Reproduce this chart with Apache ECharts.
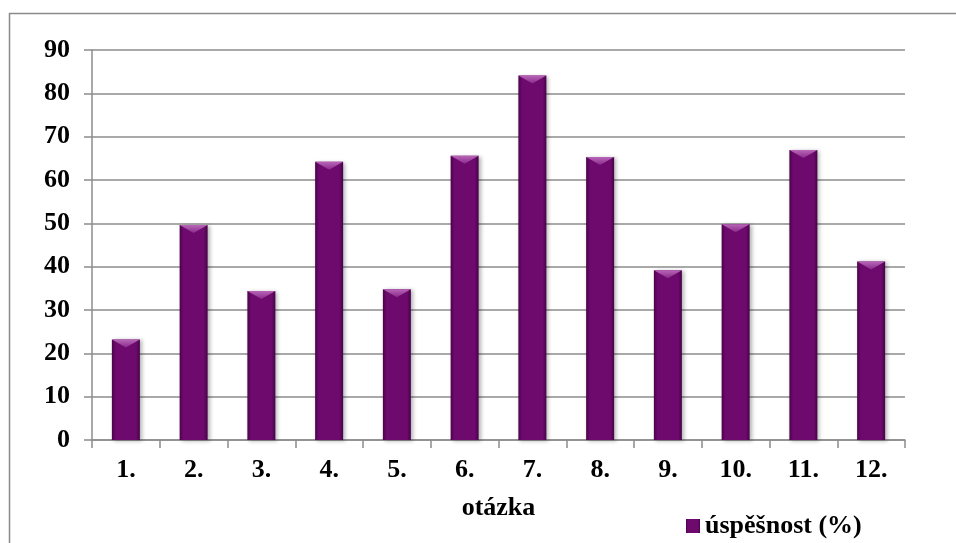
<!DOCTYPE html>
<html>
<head>
<meta charset="utf-8">
<script src="https://cdn.jsdelivr.net/npm/echarts@6/dist/echarts.min.js"></script>
<style>
  html, body { margin: 0; padding: 0; background: #fff; }
  #chart { width: 956px; height: 543px; }
</style>
</head>
<body>
<div id="chart"></div>
<script>
// Question labels and success rate per question
const categories = ['1.', '2.', '3.', '4.', '5.', '6.', '7.', '8.', '9.', '10.', '11.', '12.'];
const successRate = [23.2, 49.6, 34.4, 64.2, 34.8, 65.6, 84.1, 65.3, 39.2, 49.8, 66.9, 41.2];
const yTicks = [0, 10, 20, 30, 40, 50, 60, 70, 80, 90];
const seriesName = 'úspěšnost (%)';

const font = 'Liberation Serif, Times New Roman, serif';
const fontSize = 26;
const gridColor = '#8c8c8c';

const barFill = new echarts.graphic.LinearGradient(0, 0, 1, 0, [
  { offset: 0, color: '#4a034a' },
  { offset: 0.14, color: '#6e0a6e' },
  { offset: 0.86, color: '#6e0a6e' },
  { offset: 1, color: '#460346' }
]);
const capFill = new echarts.graphic.LinearGradient(0, 0, 0, 1, [
  { offset: 0, color: '#b866b8' },
  { offset: 1, color: '#8a2a8a' }
]);

const chart = echarts.init(document.getElementById('chart'));
chart.setOption({
  animation: false,
  backgroundColor: '#ffffff',
  graphic: [{
    type: 'rect',
    shape: { x: 9.5, y: 13.5, width: 960, height: 560 },
    style: { fill: 'none', stroke: '#8a8a8a', lineWidth: 1.5 },
    silent: true
  }],
  grid: { left: 92, right: 51, top: 50, bottom: 103 },
  legend: {
    data: [{ name: seriesName, icon: 'rect' }],
    left: 681,
    top: 508,
    itemWidth: 14,
    itemHeight: 14,
    itemGap: 5,
    textStyle: { fontFamily: font, fontWeight: 'bold', fontSize: fontSize, color: '#000' }
  },
  xAxis: {
    type: 'category',
    data: categories,
    name: 'otázka',
    nameLocation: 'middle',
    nameGap: 55,
    nameTextStyle: { fontFamily: font, fontWeight: 'bold', fontSize: fontSize, color: '#000' },
    axisLine: { lineStyle: { color: gridColor, width: 1.5 } },
    axisTick: { show: true, length: 8, inside: false, lineStyle: { color: gridColor, width: 1.5 } },
    axisLabel: { margin: 17, fontFamily: font, fontWeight: 'bold', fontSize: fontSize, color: '#000' }
  },
  yAxis: {
    type: 'value',
    min: yTicks[0],
    max: yTicks[yTicks.length - 1],
    interval: 10,
    axisLine: { show: true, lineStyle: { color: gridColor, width: 1.5 } },
    axisTick: { show: true, length: 8, lineStyle: { color: gridColor, width: 1.5 } },
    axisLabel: { margin: 22, fontFamily: font, fontWeight: 'bold', fontSize: fontSize, color: '#000' },
    splitLine: { show: true, lineStyle: { color: gridColor, width: 1.5 } }
  },
  series: [
    {
      name: seriesName,
      type: 'bar',
      data: successRate,
      barWidth: 28,
      itemStyle: {
        color: barFill,
        shadowColor: 'rgba(0,0,0,0.3)',
        shadowBlur: 4,
        shadowOffsetX: 2,
        shadowOffsetY: 1
      }
    },
    {
      name: 'bevel',
      type: 'pictorialBar',
      data: successRate,
      symbol: 'path://M0,0 L10,0 L5,5 Z',
      symbolSize: [28, 8],
      symbolPosition: 'end',
      symbolClip: false,
      barGap: '-100%',
      z: 3,
      itemStyle: { color: capFill },
      silent: true
    }
  ]
});
</script>
</body>
</html>
